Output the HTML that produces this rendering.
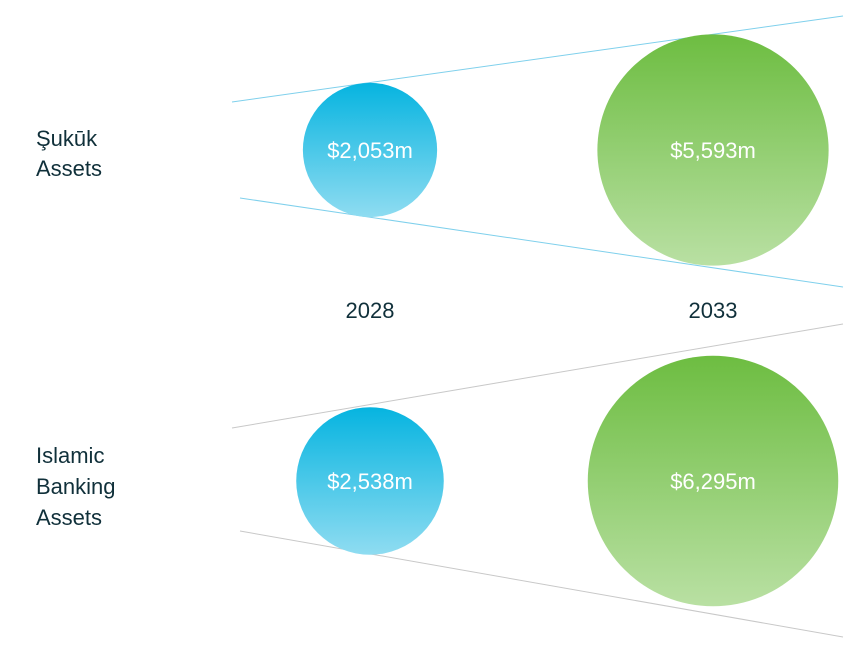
<!DOCTYPE html>
<html><head><meta charset="utf-8"><style>
body{margin:0;background:#fff;width:865px;height:655px;overflow:hidden;font-family:"Liberation Sans",sans-serif}
</style></head><body>
<svg width="865" height="655">
<defs>
<linearGradient id="gb" x1="0" y1="0" x2="0" y2="1"><stop offset="0" stop-color="#06b4e0"/><stop offset="1" stop-color="#8fdcf1"/></linearGradient>
<linearGradient id="gg" x1="0" y1="0" x2="0" y2="1"><stop offset="0" stop-color="#6dbd41"/><stop offset="1" stop-color="#b9e0a3"/></linearGradient>
</defs>
<g>
<line x1="232" y1="102" x2="843" y2="16" stroke="#7fd0ec" stroke-width="1"/>
<line x1="240" y1="198" x2="843" y2="287" stroke="#7fd0ec" stroke-width="1"/>
</g>
<g>
<line x1="232" y1="428" x2="843" y2="324" stroke="#c8c8c8" stroke-width="1"/>
<line x1="240" y1="531" x2="843" y2="637" stroke="#c8c8c8" stroke-width="1"/>
</g>
<g id="bubbles"></g>
<g fill="#10303a" font-size="22">
<text x="36" y="146">Şukūk</text>
<text x="36" y="176">Assets</text>
<text x="36" y="463">Islamic</text>
<text x="36" y="494">Banking</text>
<text x="36" y="525">Assets</text>
</g>
<g id="years"></g>
</svg>
<script>
const years = ["2028", "2033"];
const sukukValues = [2053, 5593];
const bankingValues = [2538, 6295];
const ns = "http://www.w3.org/2000/svg";
const xPos = i => 370 + i * 343;
const rScale = v => 39 + 0.0137 * v;
const rows = [{vals: sukukValues, cy: 150, name: "sukuk"}, {vals: bankingValues, cy: 481, name: "banking"}];
const g = document.getElementById("bubbles");
rows.forEach(row => {
  row.vals.forEach((v, i) => {
    const c = document.createElementNS(ns, "circle");
    
    
    c.setAttribute("cx", xPos(i)); c.setAttribute("cy", row.cy);
    c.setAttribute("r", rScale(v));
    c.setAttribute("fill", i === 0 ? "url(#gb)" : "url(#gg)");
    g.appendChild(c);
    const t = document.createElementNS(ns, "text");
    
    
    t.setAttribute("x", xPos(i)); t.setAttribute("y", row.cy + 8);
    t.setAttribute("text-anchor", "middle"); t.setAttribute("fill", "#fff");
    t.setAttribute("font-size", "22");
    t.textContent = "$" + v.toLocaleString("en-US") + "m";
    g.appendChild(t);
  });
});
const yg = document.getElementById("years");
years.forEach((y, i) => {
  const t = document.createElementNS(ns, "text");
  
  
  t.setAttribute("x", xPos(i)); t.setAttribute("y", 318);
  t.setAttribute("text-anchor", "middle"); t.setAttribute("fill", "#10303a");
  t.setAttribute("font-size", "22");
  t.textContent = y;
  yg.appendChild(t);
});
</script>
</body></html>
